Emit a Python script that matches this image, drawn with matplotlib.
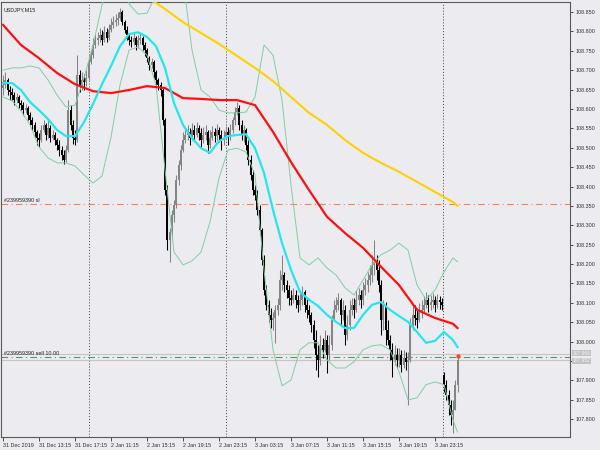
import numpy as np
import matplotlib
matplotlib.use("Agg")
import matplotlib.pyplot as plt
import matplotlib.transforms as mtransforms

plt.rcParams['font.family'] = ['Liberation Sans', 'DejaVu Sans']

symbol = "USDJPY,M15"

# M15 candles (open = previous close)
first_open = 108.654
close = [
    108.662, 108.675, 108.649, 108.644, 108.636, 108.623, 108.631, 108.615, 108.610, 108.597,
    108.603, 108.585, 108.572, 108.559, 108.541, 108.525, 108.520, 108.546, 108.559, 108.533,
    108.551, 108.525, 108.533, 108.520, 108.507, 108.494, 108.481, 108.469, 108.494, 108.597,
    108.559, 108.525, 108.520, 108.688, 108.662, 108.675, 108.670, 108.680, 108.721, 108.739,
    108.765, 108.778, 108.783, 108.791, 108.778, 108.798, 108.783, 108.804, 108.817, 108.824,
    108.829, 108.835, 108.850, 108.824, 108.804, 108.791, 108.778, 108.773, 108.783, 108.765,
    108.778, 108.783, 108.765, 108.752, 108.731, 108.713, 108.721, 108.695, 108.675, 108.662,
    108.649, 108.572, 108.391, 108.262, 108.283, 108.327, 108.352, 108.417, 108.456, 108.494,
    108.520, 108.533, 108.541, 108.525, 108.546, 108.533, 108.551, 108.538, 108.520, 108.533,
    108.541, 108.507, 108.525, 108.541, 108.530, 108.546, 108.533, 108.520, 108.525, 108.541,
    108.533, 108.546, 108.572, 108.592, 108.603, 108.559, 108.533, 108.546, 108.507, 108.469,
    108.430, 108.391, 108.378, 108.340, 108.288, 108.211, 108.133, 108.095, 108.069, 108.056,
    108.061, 108.082, 108.095, 108.159, 108.172, 108.146, 108.133, 108.113, 108.108, 108.120,
    108.108, 108.095, 108.108, 108.128, 108.095, 108.082, 108.069, 108.043, 108.004, 107.966,
    107.953, 107.992, 107.979, 108.004, 107.966, 107.992, 108.056, 108.082, 108.095, 108.108,
    108.069, 108.082, 108.017, 108.043, 108.082, 108.095, 108.082, 108.108, 108.120, 108.108,
    108.133, 108.146, 108.159, 108.172, 108.198, 108.206, 108.185, 108.146, 108.056, 108.095,
    108.030, 108.004, 107.979, 107.953, 107.966, 107.953, 107.966, 107.940, 107.958, 107.948,
    107.953, 108.043, 108.069, 108.061, 108.056, 108.077, 108.082, 108.095, 108.108, 108.095,
    108.102, 108.108, 108.095, 108.108, 108.102, 108.095, 107.889, 107.863, 107.837, 107.811,
    107.824, 107.889, 107.952,
]
high = [
    108.688, 108.695, 108.680, 108.659, 108.654, 108.644, 108.641, 108.636, 108.623, 108.618,
    108.613, 108.608, 108.592, 108.579, 108.566, 108.546, 108.538, 108.559, 108.572, 108.564,
    108.572, 108.559, 108.546, 108.541, 108.525, 108.520, 108.505, 108.494, 108.507, 108.623,
    108.610, 108.572, 108.546, 108.739, 108.700, 108.695, 108.690, 108.700, 108.739, 108.752,
    108.783, 108.793, 108.798, 108.809, 108.804, 108.814, 108.809, 108.819, 108.835, 108.840,
    108.845, 108.850, 108.860, 108.855, 108.829, 108.814, 108.796, 108.788, 108.796, 108.788,
    108.791, 108.796, 108.788, 108.773, 108.757, 108.737, 108.731, 108.726, 108.700, 108.680,
    108.670, 108.654, 108.577, 108.404, 108.293, 108.340, 108.365, 108.430, 108.469, 108.507,
    108.541, 108.551, 108.559, 108.551, 108.564, 108.559, 108.566, 108.559, 108.551, 108.554,
    108.559, 108.546, 108.546, 108.556, 108.551, 108.561, 108.554, 108.546, 108.546, 108.556,
    108.554, 108.561, 108.579, 108.605, 108.618, 108.610, 108.572, 108.559, 108.551, 108.520,
    108.481, 108.443, 108.404, 108.391, 108.352, 108.293, 108.224, 108.146, 108.108, 108.087,
    108.077, 108.095, 108.113, 108.185, 108.224, 108.180, 108.159, 108.146, 108.133, 108.139,
    108.133, 108.120, 108.133, 108.144, 108.133, 108.113, 108.095, 108.077, 108.056, 108.030,
    107.992, 108.017, 108.010, 108.030, 108.017, 108.017, 108.069, 108.108, 108.115, 108.126,
    108.113, 108.108, 108.095, 108.069, 108.108, 108.113, 108.113, 108.133, 108.139, 108.133,
    108.154, 108.164, 108.180, 108.198, 108.224, 108.262, 108.224, 108.211, 108.159, 108.108,
    108.102, 108.056, 108.017, 107.997, 107.992, 107.984, 107.984, 107.979, 107.979, 107.974,
    107.974, 108.061, 108.095, 108.095, 108.087, 108.100, 108.108, 108.118, 108.128, 108.120,
    108.120, 108.126, 108.118, 108.123, 108.118, 108.113, 107.922, 107.901, 107.876, 107.850,
    107.850, 107.901, 107.968,
]
low = [
    108.636, 108.654, 108.636, 108.623, 108.623, 108.610, 108.615, 108.603, 108.597, 108.585,
    108.590, 108.572, 108.559, 108.546, 108.528, 108.507, 108.502, 108.515, 108.541, 108.520,
    108.525, 108.515, 108.520, 108.507, 108.494, 108.479, 108.469, 108.458, 108.463, 108.489,
    108.546, 108.510, 108.507, 108.515, 108.644, 108.649, 108.649, 108.659, 108.675, 108.716,
    108.731, 108.757, 108.765, 108.773, 108.765, 108.773, 108.773, 108.778, 108.798, 108.809,
    108.814, 108.817, 108.829, 108.817, 108.796, 108.778, 108.765, 108.760, 108.765, 108.752,
    108.757, 108.768, 108.752, 108.737, 108.721, 108.700, 108.706, 108.680, 108.662, 108.649,
    108.634, 108.559, 108.378, 108.236, 108.206, 108.262, 108.309, 108.345, 108.404, 108.443,
    108.489, 108.512, 108.520, 108.507, 108.520, 108.520, 108.528, 108.520, 108.502, 108.512,
    108.520, 108.487, 108.499, 108.520, 108.515, 108.520, 108.515, 108.494, 108.507, 108.520,
    108.507, 108.520, 108.538, 108.559, 108.585, 108.546, 108.520, 108.515, 108.494, 108.456,
    108.417, 108.378, 108.365, 108.327, 108.275, 108.198, 108.120, 108.082, 108.051, 108.035,
    108.030, 107.997, 108.069, 108.082, 108.133, 108.128, 108.113, 108.095, 108.095, 108.100,
    108.087, 108.077, 108.082, 108.095, 108.077, 108.061, 108.051, 108.025, 107.984, 107.927,
    107.909, 107.940, 107.958, 107.974, 107.919, 107.953, 107.979, 108.061, 108.077, 108.082,
    108.043, 108.056, 107.992, 108.004, 108.030, 108.069, 108.061, 108.077, 108.095, 108.087,
    108.095, 108.120, 108.128, 108.146, 108.154, 108.172, 108.159, 108.128, 108.017, 108.030,
    107.992, 107.992, 107.953, 107.909, 107.940, 107.932, 107.935, 107.922, 107.932, 107.927,
    107.837, 107.948, 108.030, 108.043, 108.035, 108.051, 108.061, 108.077, 108.087, 108.077,
    108.082, 108.087, 108.077, 108.087, 108.084, 108.082, 107.870, 107.850, 107.811, 107.785,
    107.765, 107.837, 107.870,
]
# Monday open after the weekend gap
gap_open = {196: 107.914}

# indicator lines, sampled every few bars
band_bars = list(range(0, 201, 4)) + [202]
bb_middle = [
    108.667, 108.667, 108.649, 108.618, 108.597, 108.574, 108.546, 108.530, 108.530, 108.566,
    108.613, 108.664, 108.711, 108.762, 108.793, 108.798, 108.786, 108.762, 108.706, 108.615,
    108.559, 108.525, 108.499, 108.487, 108.517, 108.530, 108.533, 108.535, 108.499, 108.435,
    108.340, 108.254, 108.185, 108.128, 108.108, 108.092, 108.069, 108.051, 108.035, 108.035,
    108.069, 108.095, 108.102, 108.082, 108.066, 108.051, 108.025, 107.997, 108.002, 108.025,
    108.004, 107.986,
]
bb_upper = [
    108.700, 108.706, 108.706, 108.711, 108.706, 108.675, 108.636, 108.605, 108.610, 108.680,
    108.765, 108.868, 108.958, 108.933, 108.871, 108.845, 108.847, 108.894, 109.036, 109.139,
    108.933, 108.752, 108.649, 108.631, 108.597, 108.590, 108.590, 108.592, 108.631, 108.765,
    108.739, 108.623, 108.404, 108.216, 108.198, 108.216, 108.190, 108.172, 108.139, 108.120,
    108.159, 108.198, 108.224, 108.236, 108.254, 108.236, 108.146, 108.108, 108.133, 108.180,
    108.216, 108.206,
]
bb_lower = [
    108.631, 108.621, 108.595, 108.559, 108.502, 108.474, 108.461, 108.461, 108.453, 108.430,
    108.409, 108.427, 108.528, 108.662, 108.752, 108.760, 108.739, 108.662, 108.443, 108.231,
    108.198, 108.208, 108.231, 108.309, 108.422, 108.494, 108.499, 108.489, 108.430, 108.185,
    107.979, 107.886, 107.901, 107.979, 107.997, 107.997, 107.953, 107.932, 107.932, 107.948,
    107.979, 107.989, 107.992, 107.979, 107.922, 107.850, 107.855, 107.889, 107.896, 107.889,
    107.798, 107.767,
]
red_bars = list(range(0, 201, 8)) + [202]
red_ma = [
    108.817, 108.765, 108.731, 108.693, 108.664, 108.646, 108.641, 108.649, 108.659, 108.654,
    108.628, 108.626, 108.623, 108.623, 108.610, 108.541, 108.463, 108.391, 108.322, 108.280,
    108.242, 108.193, 108.146, 108.082, 108.061, 108.046, 108.035,
]
yellow_bars = list(range(64, 201, 8)) + [202]
yellow_ma = [
    108.889, 108.858, 108.824, 108.796, 108.768, 108.737, 108.706, 108.672, 108.631, 108.590,
    108.559, 108.520, 108.487, 108.461, 108.438, 108.412, 108.386, 108.360, 108.350,
]

time_labels = ["31 Dec 2019", "31 Dec 13:15", "31 Dec 17:15", "2 Jan 11:15", "2 Jan 15:15",
               "2 Jan 19:15", "2 Jan 23:15", "3 Jan 03:15", "3 Jan 07:15", "3 Jan 11:15",
               "3 Jan 15:15", "3 Jan 19:15", "3 Jan 23:15"]
day_breaks = [38.2, 98.9, 195.6]

order_id = "#239959390"
sl_price = 108.355
entry_price = 107.961
ask_price = 107.969
bid_price = 107.952

BG = "#ececf0"
FS = 3.9

fig = plt.figure(figsize=(6, 4.5), dpi=100, facecolor=BG)
ax = fig.add_axes([1 / 600, 13 / 450, 569 / 600, 435 / 450], facecolor=BG)

# candles
c = np.array(close)
o = np.array([first_open] + close[:-1])
for i, p in gap_open.items():
    o[i] = p
h = np.maximum(np.array(high), np.maximum(o, c))
l = np.minimum(np.array(low), np.minimum(o, c))
x = np.arange(len(c))
colors = np.where(c >= o, "#858585", "#000000")
ax.vlines(x, l, h, colors=colors, lw=0.75, zorder=2)
body = np.maximum(np.abs(c - o), 0.0012)
ax.bar(x, body, bottom=np.minimum(o, c), width=0.85, color=colors, linewidth=0, zorder=2)

# indicators
ax.plot(band_bars, bb_upper, color="#7fcfa0", lw=0.7, zorder=3)
ax.plot(band_bars, bb_lower, color="#7fcfa0", lw=0.7, zorder=3)
ax.plot(yellow_bars, yellow_ma, color="#ffd000", lw=1.5, zorder=3)
ax.plot(red_bars, red_ma, color="#ff1010", lw=1.6, zorder=4)
ax.plot(band_bars, bb_middle, color="#22e6f2", lw=1.6, zorder=4)

# day separators
for d in day_breaks:
    ax.axvline(d, color="#404040", lw=0.7, ls=(0, (1, 2)), zorder=1)

# order lines
ax.axhline(sl_price, color="#ff7f50", lw=0.8, ls=(0, (6, 3, 1, 3)), zorder=1)
ax.axhline(ask_price, color="#c4c4c4", lw=0.8, zorder=1)
ax.axhline(bid_price, color="#c4c4c4", lw=0.8, zorder=1)
ax.axhline(entry_price, color="#4f9a58", lw=0.8, ls=(0, (6, 3, 1, 3)), zorder=1)
ax.plot([x[-1]], [entry_price + 0.002], marker="o", ms=2.2, color="#ff4a1a", zorder=5)

trans = mtransforms.blended_transform_factory(ax.transAxes, ax.transData)
ax.text(0.006, sl_price + 0.002, f"{order_id} sl", transform=trans, fontsize=FS,
        va="bottom", ha="left", color="#202020")
ax.text(0.006, entry_price + 0.002, f"{order_id} sell 10.00", transform=trans, fontsize=FS,
        va="bottom", ha="left", color="#202020")
# price tags on the right (they cover the 107.950 scale label, as in the terminal)
for p, nudge in ((ask_price, 0.0015), (bid_price, -0.0015)):
    ax.text(1.004, p + nudge, f"{p:.3f}", transform=trans, fontsize=3.5, va="center",
            ha="left", color="#f4f4f4", clip_on=False, zorder=6,
            bbox=dict(boxstyle="square,pad=0.08", fc="#c2c2c2", ec="none"))

ax.text(0.004, 0.988, symbol, transform=ax.transAxes, fontsize=FS, va="top", ha="left",
        color="#202020")

# axes
ax.set_xlim(-0.9, 252)
ax.set_ylim(107.754, 108.876)
ax.yaxis.tick_right()
yt = np.arange(107.800, 108.851, 0.05)
ax.set_yticks(yt)
ax.set_yticklabels(["" if abs(v - 107.95) < 1e-6 else f"{v:.3f}" for v in yt])
ax.set_xticks(np.arange(len(time_labels)) * 16)
ax.set_xticklabels(time_labels, ha="left")
ax.tick_params(axis="y", direction="out", length=2.5, width=0.6, pad=1.5,
               labelsize=FS, colors="#303030")
ax.tick_params(axis="x", direction="out", length=3, width=0.6, pad=1,
               labelsize=FS, colors="#303030")
for s in ax.spines.values():
    s.set_color("#5a5a5a")
    s.set_linewidth(0.8)

fig.savefig("out.png", dpi=100, facecolor=BG)
